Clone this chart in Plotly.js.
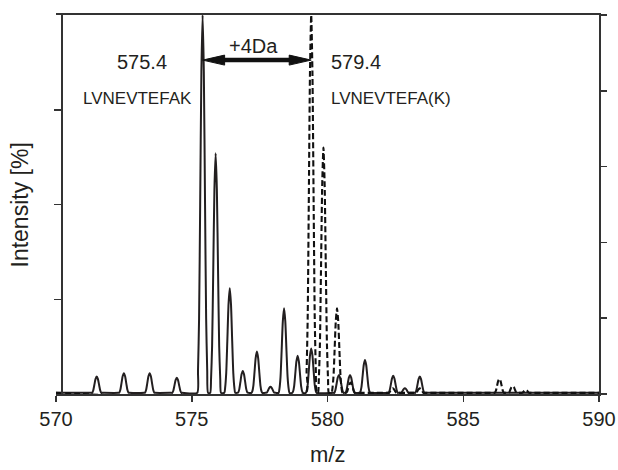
<!DOCTYPE html>
<html>
<head>
<meta charset="utf-8">
<script src="https://cdn.plot.ly/plotly-3.0.1.min.js"></script>
<style>html,body{margin:0;padding:0;background:#fff;}#chart{width:618px;height:470px;}</style>
</head>
<body>
<div id="chart"></div>
<script>
// Light peptide (solid line) peak list: m/z and relative intensity [%]
const solidMz  = [571.5, 572.5, 573.45, 574.45, 575.4, 575.88, 576.4, 576.88, 577.4, 577.9, 578.4, 578.9, 579.4, 580.42, 580.83, 581.38, 582.42, 582.85, 583.4];
const solidInt = [4.6, 5.5, 5.5, 4.3, 100, 63.5, 27.9, 6.1, 11.2, 1.9, 22.6, 10.1, 12, 5, 5, 9, 4.8, 1.5, 4.6];
// Heavy peptide (dashed line) peak list
const dashedMz  = [579.4, 579.85, 580.35, 580.85, 582.4, 583.4, 586.33, 586.82, 587.3];
const dashedInt = [100, 65, 22.6, 3, 1.5, 1.5, 4, 2.1, 1.1];
// Labels
const labelMz = [575.4, 579.4];
const labelMass = ['575.4', '579.4'];
const labelSeq = ['LVNEVTEFAK', 'LVNEVTEFA(K)'];
const shiftLabel = '+4Da';
const xTicks = [570, 575, 580, 585, 590];

// peak drawing profile (style): offsets in m/z and fraction of peak height
const shapeOff  = [-0.2, -0.17, -0.13, -0.09, -0.045, 0, 0.045, 0.09, 0.13, 0.17, 0.2];
const shapeFrac = [0.0, 0.06, 0.2, 0.5, 0.85, 1, 0.85, 0.5, 0.2, 0.06, 0.0];
const base = 0.3;

function profile(mz, inten) {
  const xs = [570], ys = [base];
  mz.forEach((c, i) => {
    shapeOff.forEach((o, k) => {
      xs.push(c + o);
      ys.push(Math.max(base, inten[i] * shapeFrac[k]));
    });
  });
  xs.push(590); ys.push(base);
  return {xs, ys};
}
const s = profile(solidMz, solidInt);
const d = profile(dashedMz, dashedInt);

const ink = '#231f20';
const font = 'Liberation Sans, Arial, sans-serif';

const traces = [
  {x: s.xs, y: s.ys, type: 'scatter', mode: 'lines', line: {color: ink, width: 2, shape: 'spline', smoothing: 0.6}, hoverinfo: 'skip', showlegend: false},
  {x: d.xs, y: d.ys, type: 'scatter', mode: 'lines', line: {color: '#111', width: 2.1, dash: '6px,3px', shape: 'spline', smoothing: 0.6}, hoverinfo: 'skip', showlegend: false},
  {x: [570], y: [0], yaxis: 'y2', type: 'scatter', mode: 'none', hoverinfo: 'skip', showlegend: false}
];

const pxPerMz = 543 / 20, pxPerPct = 379 / 100;
const arrowY = 88.1;
const headL = 22 / pxPerMz, headH = 5 / pxPerPct;
const a = labelMz[0], b = labelMz[1];

const layout = {
  width: 618, height: 470,
  margin: {l: 56, r: 19, t: 15, b: 76},
  paper_bgcolor: '#fff', plot_bgcolor: '#fff',
  font: {family: font, color: ink, size: 20},
  showlegend: false,
  xaxis: {
    range: [570, 590], tickvals: xTicks, ticktext: xTicks.map(String),
    ticks: 'outside', ticklen: 6, tickwidth: 1.5, tickcolor: '#333',
    showline: true, linewidth: 1.6, linecolor: '#333', mirror: true,
    showgrid: false, zeroline: false, tickfont: {size: 20, family: font, color: ink}
  },
  yaxis: {
    range: [0, 100], anchor: 'free', position: 0.0092,
    tickvals: [25, 50, 75], ticks: 'outside', ticklen: 7, tickwidth: 1.5, tickcolor: '#333',
    showticklabels: false, showline: true, linewidth: 1.6, linecolor: '#333',
    showgrid: false, zeroline: false
  },
  yaxis2: {
    range: [0, 100], overlaying: 'y', side: 'right', anchor: 'x',
    tickvals: [0, 20, 40, 60, 80, 100], ticks: 'outside', ticklen: 6, tickwidth: 1.5, tickcolor: '#333',
    showticklabels: false, showline: true, linewidth: 1.6, linecolor: '#333',
    showgrid: false, zeroline: false
  },
  shapes: [
    {type: 'line', xref: 'x', yref: 'y', x0: a + headL * 0.9, x1: b - headL * 0.9, y0: arrowY, y1: arrowY, line: {color: '#111', width: 4.5}},
    {type: 'path', xref: 'x', yref: 'y', path: `M ${a},${arrowY} L ${a + headL},${arrowY + headH} L ${a + headL},${arrowY - headH} Z`, fillcolor: '#111', line: {color: '#111', width: 1}},
    {type: 'path', xref: 'x', yref: 'y', path: `M ${b},${arrowY} L ${b - headL},${arrowY + headH} L ${b - headL},${arrowY - headH} Z`, fillcolor: '#111', line: {color: '#111', width: 1}}
  ],
  annotations: [
    {xref: 'x', yref: 'y', x: 573.16, y: 87.6, text: labelMass[0], showarrow: false, xanchor: 'center', yanchor: 'middle', font: {size: 20}},
    {xref: 'x', yref: 'y', x: 573.02, y: 78.1, text: labelSeq[0], showarrow: false, xanchor: 'center', yanchor: 'middle', font: {size: 17}},
    {xref: 'x', yref: 'y', x: 580.06, y: 87.6, text: labelMass[1], showarrow: false, xanchor: 'left', yanchor: 'middle', font: {size: 20}},
    {xref: 'x', yref: 'y', x: 580.06, y: 78.1, text: labelSeq[1], showarrow: false, xanchor: 'left', yanchor: 'middle', font: {size: 17}},
    {xref: 'x', yref: 'y', x: 577.29, y: 91.8, text: shiftLabel, showarrow: false, xanchor: 'center', yanchor: 'middle', font: {size: 20}},
    {xref: 'paper', yref: 'paper', x: 0.5, y: -0.16, text: 'm/z', showarrow: false, xanchor: 'center', yanchor: 'middle', font: {size: 22}},
    {xref: 'paper', yref: 'paper', x: -0.0663, y: 0.5, text: 'Intensity [%]', textangle: -90, showarrow: false, xanchor: 'center', yanchor: 'middle', font: {size: 23}}
  ]
};

Plotly.newPlot('chart', traces, layout, {staticPlot: true, displayModeBar: false});
</script>
</body>
</html>
